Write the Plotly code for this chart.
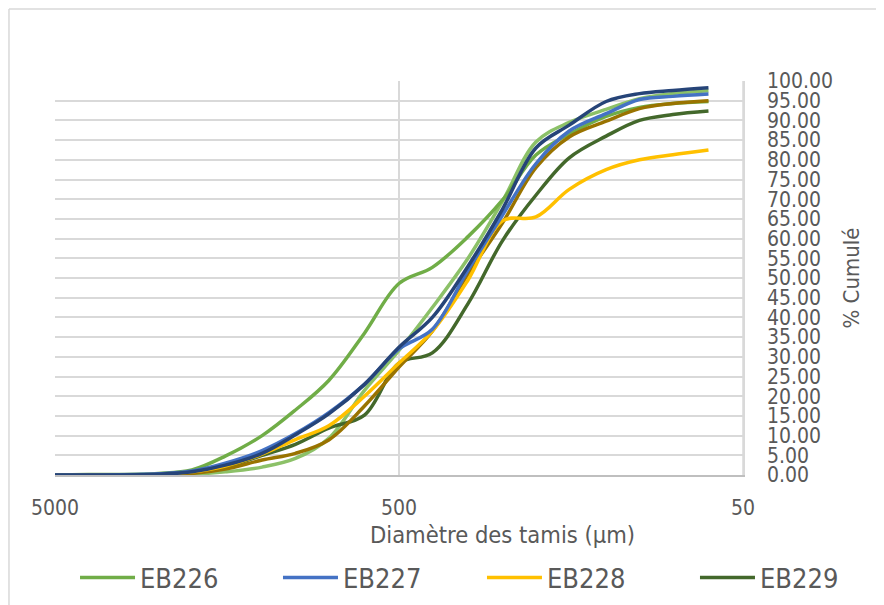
import math
import plotly.graph_objects as go

# Sieve diameters (µm)
sieves = [5000, 4000, 2500, 2000, 1600, 1250, 1000, 800, 630, 500, 400, 315, 250, 200, 160, 125, 100, 80, 63]

# Cumulative % per sample
eb226 = [0, 0.1, 0.4, 1.3, 4.8, 10, 16.5, 24, 36, 48.6, 52.7, 60.5, 69.8, 81.2, 86.5, 91, 93.3, 94.3, 94.8]
eb227 = [0, 0, 0.3, 1, 3, 6.2, 10.5, 15.8, 23, 32, 37, 52, 66, 79, 87.3, 91.7, 95.3, 96.1, 96.7]
eb228 = [0, 0, 0.2, 0.8, 2.3, 5.3, 9, 12.5, 20, 28.4, 36.5, 49.5, 64.5, 65.5, 72.5, 77.5, 80, 81.3, 82.5]
eb229 = [0, 0, 0.1, 0.6, 2, 5, 7.8, 11.9, 15.2, 28.4, 31, 43.5, 59.5, 71, 80.5, 86, 90, 91.5, 92.4]
eb230 = [0, 0, 0.2, 0.8, 2.5, 5.5, 10.2, 15.5, 23, 32.4, 40, 53, 67.5, 83, 88.8, 94.8, 96.8, 97.6, 98.3]
eb231 = [0, 0, 0.1, 0.4, 1.5, 3.8, 5.5, 8.9, 17.5, 27.4, 36.5, 51, 64, 78, 85.8, 89.8, 93, 94.3, 95]
eb232 = [0, 0, 0, 0.2, 0.8, 2.0, 4.2, 9.3, 21.5, 31.6, 42.5, 55, 69.5, 84.5, 89.5, 92.8, 95.5, 96.8, 97.5]

# name, values, colour, legend id (None = not shown in legend)
series = [
    ("EB226", eb226, "#70AD47", "legend"),
    ("EB227", eb227, "#4472C4", "legend2"),
    ("EB228", eb228, "#FFC000", "legend3"),
    ("EB229", eb229, "#43682B", "legend4"),
    ("EB230", eb230, "#264478", None),
    ("EB231", eb231, "#997300", None),
    ("EB232", eb232, "#8CC168", None),
]

x_ticks = [5000, 500, 50]
x_tick_labels = ["5000", "500", "50"]
y_ticks = list(range(0, 101, 5))
y_tick_labels = [f"{v:.2f}" for v in y_ticks]
x_title = "Diamètre des tamis (µm)"
y_title = "% Cumulé"

FONT = "DejaVu Sans Condensed, DejaVu Sans, sans-serif"
GRAY = "#595959"

fig = go.Figure()
order = [6, 0, 3, 5, 2, 1, 4]
for i in order:
    name, vals, color, leg = series[i]
    kw = dict(showlegend=False) if leg is None else dict(showlegend=True, legend=leg)
    fig.add_trace(go.Scatter(
        x=sieves, y=vals, name=name, mode="lines",
        line=dict(color=color, width=3.5, shape="spline", smoothing=1),
        **kw,
    ))

def legend_box(xpos):
    return dict(
        orientation="h", x=xpos, xanchor="left", y=-0.2614, yanchor="middle",
        itemwidth=55, bgcolor="rgba(0,0,0,0)",
        font=dict(size=27, color=GRAY, family=FONT),
    )

fig.update_layout(
    width=876, height=597,
    paper_bgcolor="white", plot_bgcolor="white",
    margin=dict(l=47, r=141, t=73, b=130, autoexpand=False),
    font=dict(family=FONT, color=GRAY),
    xaxis=dict(
        type="log", range=[math.log10(5000), math.log10(50)],
        tickvals=x_ticks, ticktext=x_tick_labels, automargin=False,
        showgrid=True, gridcolor="#D9D9D9", gridwidth=1.5,
        showline=True, linecolor="#BFBFBF", linewidth=1.5,
        ticks="outside", ticklen=13, tickcolor="rgba(0,0,0,0)",
        tickfont=dict(size=21, color=GRAY, family=FONT),
        zeroline=False,
    ),
    yaxis=dict(
        side="right", range=[0, 100], automargin=False,
        tickvals=y_ticks, ticktext=y_tick_labels,
        showgrid=True, gridcolor="#D9D9D9", gridwidth=1.5,
        showline=True, linecolor="#D9D9D9", linewidth=1.5, mirror=False,
        ticks="outside", ticklen=18, tickcolor="rgba(0,0,0,0)",
        tickfont=dict(size=21, color=GRAY, family=FONT),
        title=dict(text=y_title, font=dict(size=22, color=GRAY, family=FONT), standoff=12),
        zeroline=False,
    ),
    legend=legend_box(0.0291),
    legend2=legend_box(0.3241),
    legend3=legend_box(0.6206),
    legend4=legend_box(0.9302),
    annotations=[
        dict(text=x_title, xref="paper", yref="paper", x=0.6504, y=-0.1523,
             xanchor="center", yanchor="middle", showarrow=False,
             font=dict(size=23.5, color=GRAY, family=FONT)),
    ],
    shapes=[
        dict(type="line", xref="paper", yref="paper", x0=-0.0669, x1=-0.0669, y0=1.1827, y1=-0.4,
             line=dict(color="#D9D9D9", width=1.5)),
        dict(type="line", xref="paper", yref="paper", x0=-0.0669, x1=1.3, y0=1.1827, y1=1.1827,
             line=dict(color="#D9D9D9", width=1.5)),
        dict(type="line", xref="paper", yref="paper", x0=1, x1=1, y0=0, y1=1,
             line=dict(color="#D9D9D9", width=1.5)),
    ],
)

fig.write_html("out.html")
